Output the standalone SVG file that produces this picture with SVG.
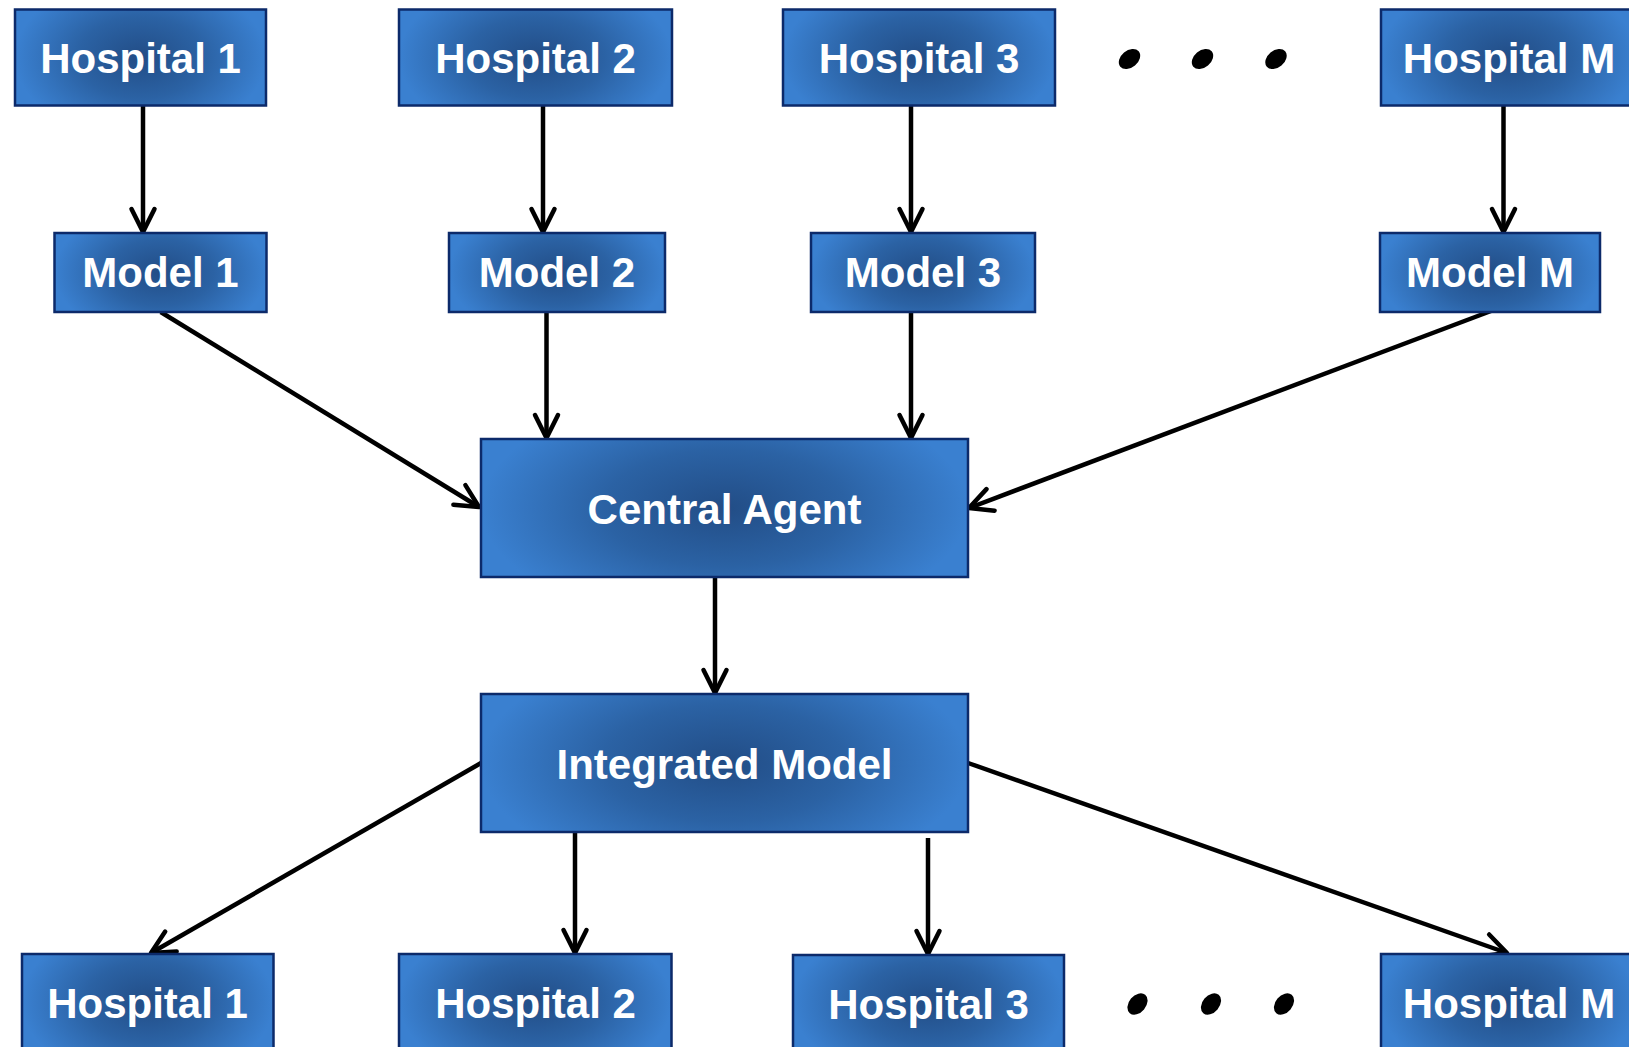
<svg xmlns="http://www.w3.org/2000/svg" width="1629" height="1047" viewBox="0 0 1629 1047">
<style>
.box{fill:url(#bg);stroke:#0c2a6a;stroke-width:2.5}
.lbl{font-family:"Liberation Sans",Arial,sans-serif;font-weight:bold;font-size:42px;fill:#ffffff;text-anchor:middle}
.con{stroke:#000;stroke-width:4.5;fill:none;marker-end:url(#ah)}
.dot{fill:#000}
</style>
<defs>
<radialGradient id="bg" cx="0.5" cy="0.5" r="0.5" gradientTransform="translate(0.5,0.5) scale(1,1.7) translate(-0.5,-0.5)">
<stop offset="0" stop-color="#224d86"/>
<stop offset="0.5" stop-color="#2b62a4"/>
<stop offset="1" stop-color="#3a80d0"/>
</radialGradient>
<marker id="ah" markerUnits="userSpaceOnUse" markerWidth="30" markerHeight="30" refX="0" refY="0" viewBox="-26 -15 30 30" orient="auto" overflow="visible">
<path d="M-23,-11.5 L0,0 L-23,11.5" fill="none" stroke="#000" stroke-width="4.5" stroke-linecap="round" stroke-linejoin="round"/>
</marker>
</defs>
<rect width="1629" height="1047" fill="#fff"/>
<g id="connectors">
<line class="con" x1="143" y1="106" x2="143" y2="232"/>
<line class="con" x1="543" y1="106" x2="543" y2="232"/>
<line class="con" x1="911" y1="106" x2="911" y2="232"/>
<line class="con" x1="1503.5" y1="106" x2="1503.5" y2="232"/>
<line class="con" x1="160.7" y1="312" x2="479" y2="507"/>
<line class="con" x1="546.5" y1="312" x2="546.5" y2="438"/>
<line class="con" x1="911" y1="312" x2="911" y2="438"/>
<line class="con" x1="1491" y1="311" x2="969" y2="508"/>
<line class="con" x1="715" y1="577" x2="715" y2="693"/>
<line class="con" x1="481" y1="763" x2="151" y2="953"/>
<line class="con" x1="575" y1="832" x2="575" y2="953"/>
<line class="con" x1="928" y1="838" x2="928" y2="954"/>
<line class="con" x1="968" y1="763" x2="1507" y2="953"/>
</g>
<g id="h1-top"><rect class="box" x="15" y="9.5" width="251" height="96"/><text class="lbl" x="140.5" y="72.5">Hospital 1</text></g>
<g id="h2-top"><rect class="box" x="399" y="9.5" width="273" height="96"/><text class="lbl" x="535.5" y="72.5">Hospital 2</text></g>
<g id="h3-top"><rect class="box" x="783" y="9.5" width="272" height="96"/><text class="lbl" x="919" y="72.5">Hospital 3</text></g>
<g id="hm-top"><rect class="box" x="1381" y="9.5" width="256" height="96"/><text class="lbl" x="1509" y="72.5">Hospital M</text></g>
<g id="dots-top">
<ellipse class="dot" cx="1129.5" cy="59" rx="12" ry="8.5" transform="rotate(-40 1129.5 59)"/>
<ellipse class="dot" cx="1202.5" cy="59" rx="12" ry="8.5" transform="rotate(-40 1202.5 59)"/>
<ellipse class="dot" cx="1276" cy="59" rx="12" ry="8.5" transform="rotate(-40 1276 59)"/>
</g>
<g id="m1"><rect class="box" x="54.5" y="233" width="212" height="79"/><text class="lbl" x="160.5" y="287">Model 1</text></g>
<g id="m2"><rect class="box" x="449" y="233" width="216" height="79"/><text class="lbl" x="557" y="287">Model 2</text></g>
<g id="m3"><rect class="box" x="811" y="233" width="224" height="79"/><text class="lbl" x="923" y="287">Model 3</text></g>
<g id="mm"><rect class="box" x="1380" y="233" width="220" height="79"/><text class="lbl" x="1490" y="287">Model M</text></g>
<g id="central-agent"><rect class="box" x="481" y="439" width="487" height="138"/><text class="lbl" x="724.5" y="524">Central Agent</text></g>
<g id="integrated-model"><rect class="box" x="481" y="694" width="487" height="138"/><text class="lbl" x="724.5" y="779">Integrated Model</text></g>
<g id="h1-bottom"><rect class="box" x="22" y="954" width="251.5" height="96"/><text class="lbl" x="147.5" y="1018">Hospital 1</text></g>
<g id="h2-bottom"><rect class="box" x="399" y="954" width="272.5" height="96"/><text class="lbl" x="535.5" y="1018">Hospital 2</text></g>
<g id="h3-bottom"><rect class="box" x="793" y="955" width="271" height="96"/><text class="lbl" x="928.5" y="1019">Hospital 3</text></g>
<g id="hm-bottom"><rect class="box" x="1381" y="954" width="256" height="96"/><text class="lbl" x="1509" y="1018">Hospital M</text></g>
<g id="dots-bottom">
<ellipse class="dot" cx="1137.5" cy="1004" rx="12" ry="8.5" transform="rotate(-50 1137.5 1004)"/>
<ellipse class="dot" cx="1211" cy="1004" rx="12" ry="8.5" transform="rotate(-50 1211 1004)"/>
<ellipse class="dot" cx="1284" cy="1004" rx="12" ry="8.5" transform="rotate(-50 1284 1004)"/>
</g>
</svg>
